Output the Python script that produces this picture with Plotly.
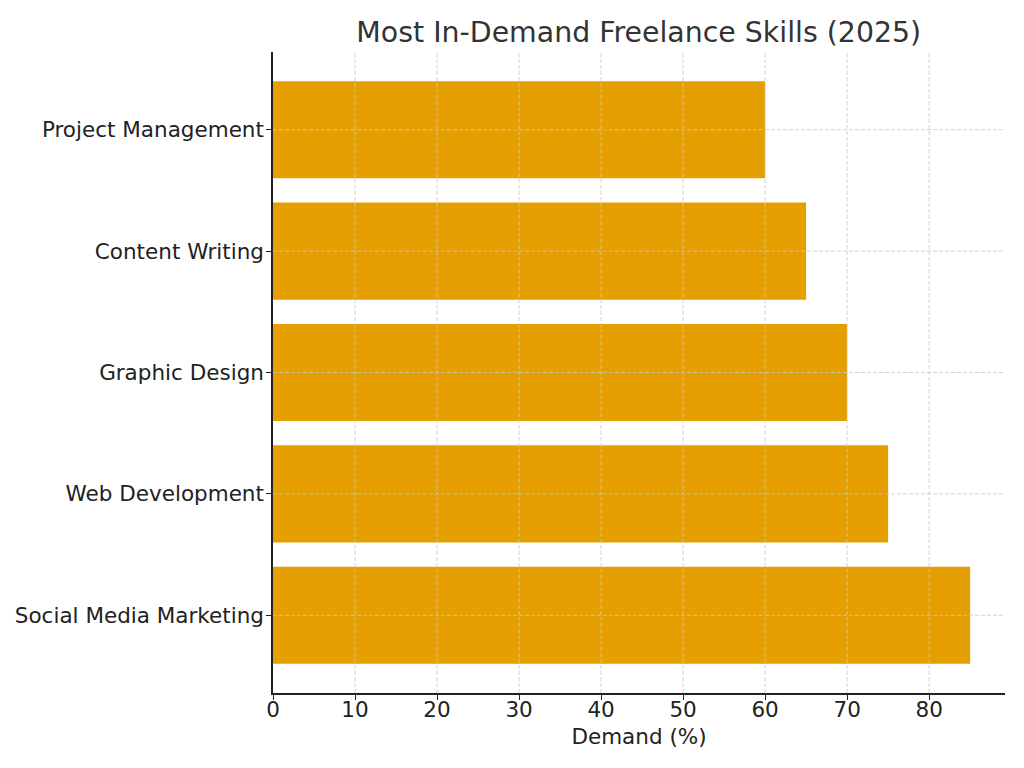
import plotly.graph_objects as go

# data, bottom to top
skills = ["Social Media Marketing", "Web Development", "Graphic Design",
          "Content Writing", "Project Management"]
demand = [85, 75, 70, 65, 60]
x_ticks = [0, 10, 20, 30, 40, 50, 60, 70, 80]

fig = go.Figure()
fig.add_trace(go.Bar(
    x=demand, y=skills, orientation="h",
    width=0.8, marker=dict(color="#E69F00", line=dict(width=0)),
))

# matplotlib draws its grid over the bars, so do it with shapes
grid = dict(color="#c8c8c8", width=0.8, dash="4px,2px")
for t in x_ticks[1:]:
    fig.add_shape(type="line", layer="above", xref="x", yref="paper",
                  x0=t, x1=t, y0=0, y1=1, line=grid)
for s in skills:
    fig.add_shape(type="line", layer="above", xref="paper", yref="y",
                  x0=0, x1=1, y0=s, y1=s, line=grid)

axis_font = dict(family="DejaVu Sans", size=21.5, color="#222222")
fig.update_layout(
    width=1024, height=768,
    paper_bgcolor="white", plot_bgcolor="white",
    margin=dict(l=265, r=27, t=44, b=83),
    showlegend=False,
    title=dict(text="Most In-Demand Freelance Skills (2025)",
               x=0.616, xanchor="center", y=0.969, yanchor="middle",
               font=dict(family="DejaVu Sans", size=28.4, color="#333333")),
    font=axis_font,
)
fig.update_xaxes(
    range=[0, 89.25], tickvals=x_ticks, showgrid=False, zeroline=False,
    showline=True, linecolor="#222222", linewidth=1.5,
    ticks="outside", ticklen=5, tickcolor="#222222", tickwidth=1.2,
    tickfont=axis_font, ticklabelstandoff=-9, automargin=False,
    title=dict(text="Demand (%)", font=axis_font, standoff=8),
)
fig.update_yaxes(
    range=[-0.64, 4.64], showgrid=False, zeroline=False,
    showline=True, linecolor="#222222", linewidth=1.5,
    ticks="outside", ticklen=5, tickcolor="#222222", tickwidth=1.2,
    tickfont=axis_font, ticklabelstandoff=-2, automargin=False,
)

fig.write_html("out.html")
